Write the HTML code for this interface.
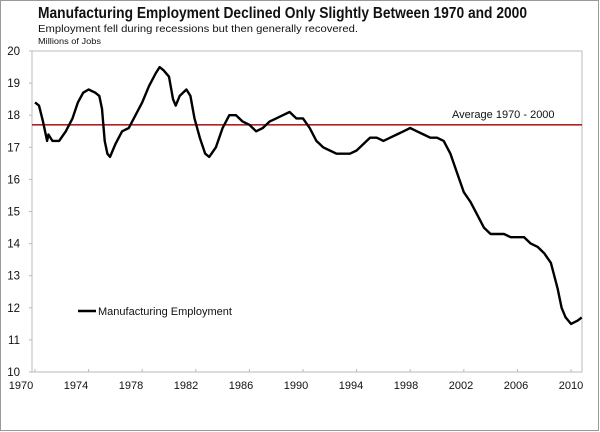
<!DOCTYPE html>
<html><head><meta charset="utf-8"><style>
body{margin:0;background:#fff;}
svg{display:block;font-family:"Liberation Sans",sans-serif;}
</style></head><body>
<svg width="600" height="432" viewBox="0 0 600 432">
<rect x="0.5" y="0.5" width="598" height="430" fill="#fff" stroke="#999"/>
<text x="38" y="18" font-size="15.5" font-weight="bold" fill="#111" textLength="489" lengthAdjust="spacingAndGlyphs">Manufacturing Employment Declined Only Slightly Between 1970 and 2000</text>
<text x="38" y="32" font-size="10.5" fill="#111" textLength="320" lengthAdjust="spacingAndGlyphs">Employment fell during recessions but then generally recovered.</text>
<text x="38" y="44" font-size="8.5" fill="#111" textLength="63" lengthAdjust="spacingAndGlyphs">Millions of Jobs</text>
<g id="axes"></g>
<g id="marks"></g>
</svg>
<script>
const years=[1970.0,1970.3,1970.6,1970.9,1971.0,1971.3,1971.8,1972.3,1972.8,1973.2,1973.6,1974.0,1974.5,1974.8,1975.0,1975.2,1975.4,1975.6,1976.0,1976.5,1977.0,1977.5,1978.0,1978.5,1979.0,1979.3,1979.6,1980.0,1980.3,1980.5,1980.8,1981.3,1981.6,1981.9,1982.3,1982.7,1983.0,1983.5,1984.0,1984.5,1985.0,1985.5,1986.0,1986.5,1987.0,1987.5,1988.0,1988.5,1989.0,1989.5,1990.0,1990.5,1991.0,1991.5,1992.0,1992.5,1993.0,1993.5,1994.0,1994.5,1995.0,1995.5,1996.0,1996.5,1997.0,1997.5,1998.0,1998.5,1999.0,1999.5,2000.0,2000.5,2001.0,2001.5,2002.0,2002.5,2003.0,2003.5,2004.0,2004.5,2005.0,2005.5,2006.0,2006.5,2007.0,2007.5,2008.0,2008.5,2009.0,2009.3,2009.6,2010.0,2010.5,2010.8];
const jobs=[18.4,18.3,17.8,17.2,17.4,17.2,17.2,17.5,17.9,18.4,18.7,18.8,18.7,18.6,18.2,17.2,16.8,16.7,17.1,17.5,17.6,18.0,18.4,18.9,19.3,19.5,19.4,19.2,18.5,18.3,18.6,18.8,18.6,17.9,17.3,16.8,16.7,17.0,17.6,18.0,18.0,17.8,17.7,17.5,17.6,17.8,17.9,18.0,18.1,17.9,17.9,17.6,17.2,17.0,16.9,16.8,16.8,16.8,16.9,17.1,17.3,17.3,17.2,17.3,17.4,17.5,17.6,17.5,17.4,17.3,17.3,17.2,16.8,16.2,15.6,15.3,14.9,14.5,14.3,14.3,14.3,14.2,14.2,14.2,14.0,13.9,13.7,13.4,12.6,12.0,11.7,11.5,11.6,11.7];
const average=[17.7];
const yTicks=[10,11,12,13,14,15,16,17,18,19,20];
const xTicks=[1970,1974,1978,1982,1986,1990,1994,1998,2002,2006,2010];
const NS='http://www.w3.org/2000/svg';
const L=32,R=582,T=51,B=372;
const xs=y=>35+(y-1970)*13.4;
const xl=y=>21+(y-1970)*13.75;
const ys=v=>B-(v-10)*(B-T)/10;
function mk(tag,attrs,parent,txt){const e=document.createElementNS(NS,tag);for(const k in attrs)e.setAttribute(k,attrs[k]);if(txt!==undefined)e.textContent=txt;parent.appendChild(e);return e;}
const ax=document.getElementById('axes'),mg=document.getElementById('marks');
const frame=mk('rect',{x:L,y:T,width:R-L,height:B-T,fill:'none',stroke:'#bbb'},ax);


yTicks.forEach(t=>{
 const tl=mk('text',{x:L-12,y:ys(t)+4,'font-size':11.5,'text-anchor':'end',fill:'#111'},ax,String(t));
 
 
 mk('line',{x1:L-3,x2:L,y1:ys(t),y2:ys(t),stroke:'#bbb'},ax);
});
xTicks.forEach(t=>{
 const tl=mk('text',{x:xl(t),y:B+17,'font-size':11,'text-anchor':'middle',fill:'#111'},ax,String(t));
 
 
 mk('line',{x1:xs(t),x2:xs(t),y1:B,y2:B-3,stroke:'#bbb'},ax);
});
const avg=mk('line',{x1:L,x2:R,y1:ys(average[0]),y2:ys(average[0]),stroke:'#b22222','stroke-width':1.6},mg);


const al=mk('text',{x:452,y:ys(average[0])-7,'font-size':11,fill:'#111'},mg,'Average 1970 - 2000');


const pts=years.map((y,i)=>xs(y).toFixed(1)+','+ys(jobs[i]).toFixed(1)).join(' ');
const ln=mk('polyline',{points:pts,fill:'none',stroke:'#000','stroke-width':2.4,'stroke-linejoin':'round'},mg);


const lg=mk('line',{x1:78,x2:96,y1:311,y2:311,stroke:'#000','stroke-width':2.4},mg);


const lt=mk('text',{x:98,y:315,'font-size':11,fill:'#111'},mg,'Manufacturing Employment');


</script>
</body></html>
